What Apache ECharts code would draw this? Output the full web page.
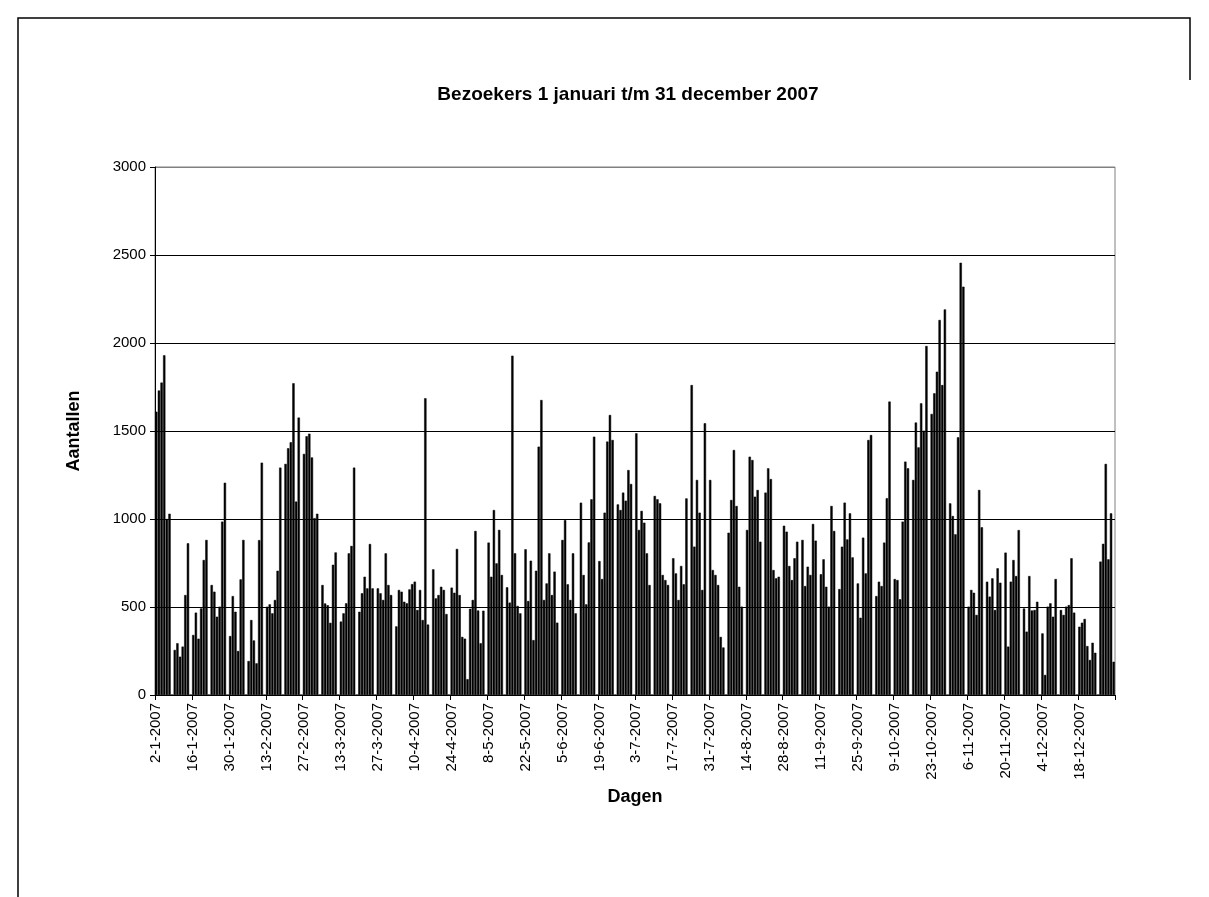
<!DOCTYPE html>
<html>
<head>
<meta charset="utf-8">
<script src="https://cdn.jsdelivr.net/npm/echarts@6/dist/echarts.min.js"></script>
<style>
html,body{margin:0;padding:0;background:#fff;}
#chart{width:1209px;height:897px;}
</style>
</head>
<body>
<div id="chart"></div>
<script>
// Daily visitors, 2-1-2007 .. 31-12-2007 (weeks Tue..Mon; Mondays mostly closed)
const visitors = [
  1610,1730,1775,1930,1000,1030,0,
  256,294,218,275,568,862,0,
  341,468,320,492,767,881,0,
  625,587,445,502,985,1206,0,
  335,562,473,250,657,881,0,
  193,426,310,180,880,1320,0,
  502,515,464,540,706,1292,0,
  1313,1402,1436,1771,1099,1576,0,
  1370,1470,1485,1350,1005,1030,0,
  625,520,510,410,740,810,0,
  417,464,521,805,847,1292,0,
  473,578,672,606,858,606,0,
  606,578,540,805,625,568,0,
  390,597,587,530,521,600,630,
  644,483,597,426,1686,400,0,
  714,549,568,615,597,460,0,
  610,581,830,568,330,320,90,
  490,540,932,480,294,479,0,
  866,672,1051,748,938,682,0,
  612,525,1928,805,506,464,0,
  828,534,763,312,706,1411,1676,
  540,634,805,568,701,411,0,
  881,994,629,540,805,464,0,
  1093,682,515,867,1112,1468,0,
  761,659,1036,1440,1591,1449,0,
  1083,1051,1150,1104,1278,1199,0,
  1487,938,1046,979,805,625,0,
  1131,1112,1089,682,653,625,0,
  777,691,540,733,629,1117,0,
  1761,843,1222,1036,597,1544,0,
  1222,710,682,625,330,270,0,
  922,1108,1392,1074,615,502,0,
  938,1354,1335,1127,1165,871,0,
  1150,1288,1227,710,663,672,0,
  962,928,733,653,777,871,0,
  881,619,729,682,972,877,0,
  686,771,615,502,1074,932,0,
  602,843,1093,884,1032,782,0,
  634,439,894,691,1449,1477,0,
  562,644,619,866,1118,1667,0,
  659,653,544,985,1326,1288,0,
  1222,1548,1407,1657,1502,1983,0,
  1597,1714,1837,2131,1761,2191,0,
  1089,1017,913,1464,2456,2320,0,
  502,597,581,455,1165,953,0,
  644,559,663,483,720,638,0,
  809,275,644,767,676,937,0,
  492,360,676,480,483,530,0,
  350,114,502,521,445,659,0,
  483,455,502,511,777,468,0,
  388,411,432,278,199,297,240,
  0,758,859,1313,771,1032,189
];

// Category labels: one per day, d-m-yyyy
const days = [];
(function(){
  const d = new Date(2007, 0, 2);
  for (let i = 0; i < visitors.length; i++) {
    days.push(d.getDate() + '-' + (d.getMonth() + 1) + '-' + d.getFullYear());
    d.setDate(d.getDate() + 1);
  }
})();

const yTicks = { min: 0, max: 3000, step: 500 };
const FONT = 'Liberation Sans, Arial, sans-serif';

const chart = echarts.init(document.getElementById('chart'));
chart.setOption({
  animation: false,
  backgroundColor: '#fff',
  title: {
    text: 'Bezoekers 1 januari t/m 31 december 2007',
    left: 623, top: 80, textAlign: 'center',
    textStyle: { fontFamily: FONT, fontSize: 19, fontWeight: 'bold', color: '#000' }
  },
  grid: {
    left: 155, top: 167, width: 960, height: 528,
    show: true, borderColor: '#808080', borderWidth: 1, backgroundColor: 'transparent'
  },
  xAxis: {
    type: 'category',
    data: days,
    name: 'Dagen',
    nameLocation: 'middle',
    nameGap: 65,
    nameTextStyle: { fontFamily: FONT, fontSize: 18, fontWeight: 'bold', color: '#000' },
    axisLine: { lineStyle: { color: '#000', width: 1 } },
    axisTick: { show: true, interval: 13, length: 5, alignWithLabel: false, lineStyle: { color: '#000' } },
    axisLabel: { interval: 13, rotate: 90, fontFamily: FONT, fontSize: 15, color: '#000', margin: 8 },
    splitLine: { show: false }
  },
  yAxis: {
    type: 'value',
    min: yTicks.min, max: yTicks.max, interval: yTicks.step,
    name: 'Aantallen',
    nameLocation: 'middle',
    nameGap: 72,
    nameRotate: 90,
    nameTextStyle: { fontFamily: FONT, fontSize: 18, fontWeight: 'bold', color: '#000' },
    axisLine: { show: true, lineStyle: { color: '#000', width: 1 } },
    axisTick: { show: true, length: 5, lineStyle: { color: '#000' } },
    axisLabel: { fontFamily: FONT, fontSize: 15, color: '#000', margin: 9, formatter: v => String(v) },
    splitLine: { show: true, lineStyle: { color: ['#000','#000','#000','#000','#000','#000','#808080'], width: 1 } }
  },
  series: [{
    type: 'bar',
    data: visitors,
    barCategoryGap: '12%',
    itemStyle: { color: '#000', borderColor: '#000', borderWidth: 0.5 }
  }],
  graphic: [
    { type: 'polyline', shape: { points: [[18, 897], [18, 18], [1190, 18], [1190, 80]] },
      style: { stroke: '#000', lineWidth: 1.5, fill: null } }
  ]
});
</script>
</body>
</html>
